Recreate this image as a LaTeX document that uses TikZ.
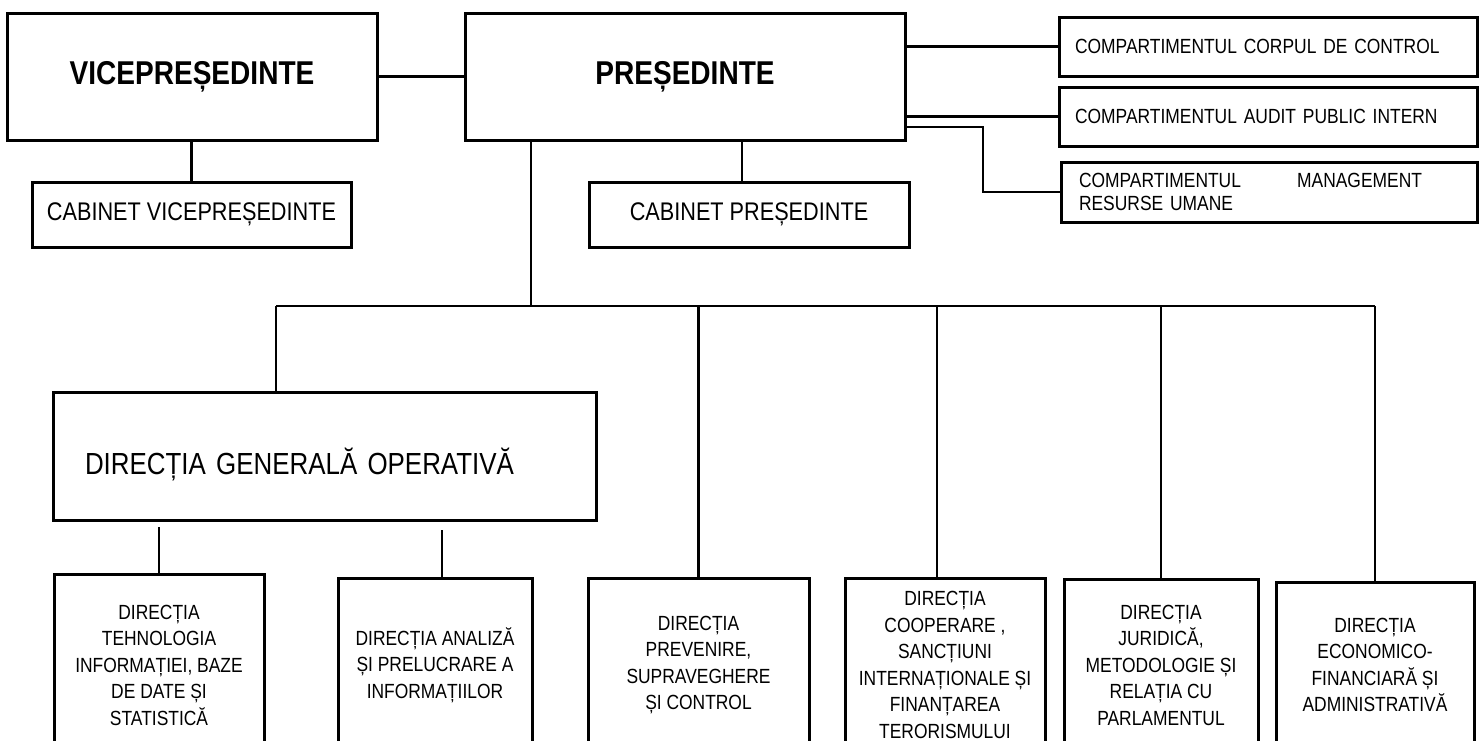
\documentclass[tikz,border=0pt]{standalone}
\usepackage{fontspec}
\setmainfont{Liberation Sans}[FakeStretch=0.85]
\usetikzlibrary{calc}

\begin{document}
\begin{tikzpicture}[x=1pt, y=-1pt,
    box/.style={draw, line width=3pt, inner sep=0pt, align=center},
    headbox/.style={box, minimum height=127pt, font=\bfseries\fontsize{33}{36}\selectfont},
    cabbox/.style={box, minimum height=65pt, font=\fontsize{25.5}{28}\selectfont},
    compbox/.style={box, align=left, minimum height=59pt, font=\fontsize{20.5}{23}\selectfont},
    lowbox/.style={box, font=\fontsize{20.5}{26.5}\selectfont},
    link/.style={line width=2.2pt}]
    \useasboundingbox (0,0) rectangle (1483,740);
    \fill[white] (0,0) rectangle (1483,740);
    \clip (0,0) rectangle (1483,740);

    % conducere
    \node[headbox, minimum width=370pt] (vice) at (192,76.5) {VICEPREȘEDINTE};
    \node[headbox, minimum width=440pt] (pres) at (685,76.5) {PREȘEDINTE};
    \node[cabbox, minimum width=319pt] (cabvice) at (191.5,214.5) {CABINET VICEPREȘEDINTE};
    \node[cabbox, minimum width=320pt] (cabpres) at (749,214.5) {CABINET PREȘEDINTE};

    % compartimente
    \node[compbox, text width=386pt, inner xsep=16pt] (ctrl) at (1268,46.5) {COMPARTIMENTUL CORPUL DE CONTROL};
    \node[compbox, text width=386pt, inner xsep=16pt] (audit) at (1268,116.5) {COMPARTIMENTUL AUDIT PUBLIC INTERN};
    \node[compbox, text width=380pt, inner xsep=18pt, minimum height=60pt] (hr) at (1269,192)
        {\makebox[343pt][s]{COMPARTIMENTUL\hfill MANAGEMENT}\\RESURSE UMANE};

    % directii
    \node[box, minimum width=543pt, minimum height=128pt, text width=479pt, inner xsep=32pt,
        align=left, font=\fontsize{30.5}{34}\selectfont] (dgo) at (324.5,456)
        {\raisebox{-18pt}[0pt][0pt]{DIRECȚIA GENERALĂ OPERATIVĂ}};
    \node[lowbox, minimum width=210pt, minimum height=182pt] (dtech) at (159,665)
        {DIRECȚIA\\TEHNOLOGIA\\INFORMAȚIEI, BAZE\\DE DATE ȘI\\STATISTICĂ};
    \node[lowbox, minimum width=194pt, minimum height=174pt] (danal) at (435,665)
        {DIRECȚIA ANALIZĂ\\ȘI PRELUCRARE A\\INFORMAȚIILOR};
    \node[lowbox, minimum width=221pt, minimum height=174pt] (dprev) at (698.5,665)
        {DIRECȚIA\\PREVENIRE,\\SUPRAVEGHERE\\ȘI CONTROL};
    \node[lowbox, minimum width=200pt, minimum height=174pt] (dcoop) at (945,665)
        {DIRECȚIA\\COOPERARE ,\\SANCȚIUNI\\INTERNAȚIONALE ȘI\\FINANȚAREA\\TERORISMULUI};
    \node[lowbox, minimum width=194pt, minimum height=172pt] (djur) at (1161,665)
        {DIRECȚIA\\JURIDICĂ,\\METODOLOGIE ȘI\\RELAȚIA CU\\PARLAMENTUL};
    \node[lowbox, minimum width=198pt, minimum height=166pt] (decon) at (1375,665)
        {DIRECȚIA\\ECONOMICO-\\FINANCIARĂ ȘI\\ADMINISTRATIVĂ};

    % legaturi
    \draw[link] (vice.east) -- (pres.west);
    \draw[link] (cabvice.north) -- (cabvice.north |- vice.south);
    \draw[link] ($(cabpres.north)+(-7,0)$) -- ($(cabpres.north |- pres.south)+(-7,0)$);
    \draw[link] (ctrl.west) -- (ctrl.west -| pres.east);
    \draw[link] (audit.west) -- (audit.west -| pres.east);
    \coordinate (jog) at (983,127);
    \draw[link] (pres.east |- jog) -- (jog) |- (hr.west);

    \coordinate (fork) at (531,306);
    \coordinate (busL) at (276,306);
    \draw[link] (pres.south -| fork) -- (fork);
    \draw[link] (busL) -- (busL -| decon.north);
    \draw[link] (busL) -- (busL |- dgo.north);
    \foreach \n/\dx in {dprev/0, dcoop/-8, djur/0, decon/0}
        \draw[link] ($(\n.north)+(\dx,0)$) -- ($(\n.north |- busL)+(\dx,0)$);
    \draw[link] (dtech.north) -- ($(dtech.north |- dgo.south)+(0,5)$);
    \draw[link] ($(danal.north)+(7,0)$) -- ($(danal.north |- dgo.south)+(7,8)$);
\end{tikzpicture}
\end{document}
